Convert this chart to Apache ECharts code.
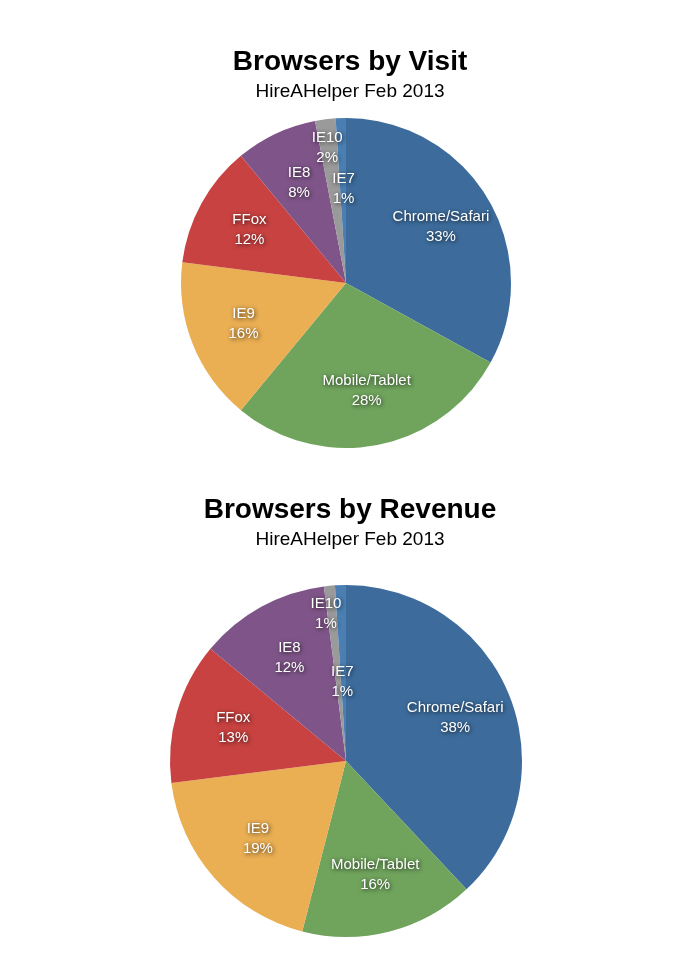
<!DOCTYPE html>
<html lang="en">
<head>
    <meta charset="UTF-8">
    <title>Browsers</title>
    <style>
        html, body { margin: 0; padding: 0; background: #fff; }
        #main { width: 700px; height: 980px; }
    </style>
</head>
<body>
    <div id="main"></div>
    <script src="https://cdn.jsdelivr.net/npm/echarts@6/dist/echarts.min.js"></script>
    <script>
        const browsers = ['Chrome/Safari', 'Mobile/Tablet', 'IE9', 'FFox', 'IE8', 'IE10', 'IE7'];
        const visitShare = [33, 28, 16, 12, 8, 2, 1];
        const revenueShare = [38, 16, 19, 13, 12, 1, 1];
        const colors = ['#3d6c9c', '#70a45d', '#eaae53', '#c84241', '#7f5589', '#9a9a9a', '#4b7fb2'];

        const font = '"Liberation Sans", Arial, Helvetica, sans-serif';
        const myChart = echarts.init(document.getElementById('main'));

        // label nudges for the thin slices (px)
        const visitOffsets = { IE10: [-5, -26], IE7: [1, 16] };
        const revenueOffsets = { IE10: [-9, -30], IE7: [0, 38] };

        function pieData(values, offsets) {
            return browsers.map((name, i) => {
                const item = { name: name, value: values[i], itemStyle: { color: colors[i] } };
                if (offsets && offsets[name]) item.label = { offset: offsets[name] };
                return item;
            });
        }

        const labelStyle = {
            show: true,
            position: 'inside',
            formatter: '{b}\n{c}%',
            color: '#fff',
            fontFamily: font,
            fontSize: 15,
            lineHeight: 20,
            textShadowColor: 'rgba(0,0,0,0.8)',
            textShadowBlur: 4,
            textShadowOffsetX: 1,
            textShadowOffsetY: 1,
            textBorderWidth: 0
        };

        function pies(center, r, values, offsets) {
            return [
                {
                    type: 'pie',
                    center: center,
                    radius: [0, r],
                    startAngle: 90,
                    clockwise: true,
                    silent: true,
                    label: { show: false },
                    labelLine: { show: false },
                    itemStyle: { borderWidth: 0 },
                    data: pieData(values)
                },
                {
                    // transparent copy, only used to place the labels further out
                    type: 'pie',
                    center: center,
                    radius: [0, r * 1.3],
                    startAngle: 90,
                    clockwise: true,
                    silent: true,
                    label: labelStyle,
                    labelLine: { show: false },
                    itemStyle: { color: 'rgba(0,0,0,0)', borderWidth: 0 },
                    data: pieData(values, offsets).map(d => Object.assign(d, { itemStyle: { color: 'rgba(0,0,0,0)' } }))
                }
            ];
        }

        const option = {
            animation: false,
            title: [
                { text: 'Browsers by Visit', left: 'center', top: 43, textStyle: { fontFamily: font, fontSize: 28, fontWeight: 'bold', color: '#000' } },
                { text: 'HireAHelper Feb 2013', left: 'center', top: 77, textStyle: { fontFamily: font, fontSize: 19, fontWeight: 'normal', color: '#000' } },
                { text: 'Browsers by Revenue', left: 'center', top: 491, textStyle: { fontFamily: font, fontSize: 28, fontWeight: 'bold', color: '#000' } },
                { text: 'HireAHelper Feb 2013', left: 'center', top: 525, textStyle: { fontFamily: font, fontSize: 19, fontWeight: 'normal', color: '#000' } }
            ],
            series: [].concat(
                pies([346, 283], 165, visitShare, visitOffsets),
                pies([346, 761], 176, revenueShare, revenueOffsets)
            )
        };
        myChart.setOption(option);
    </script>
</body>
</html>
